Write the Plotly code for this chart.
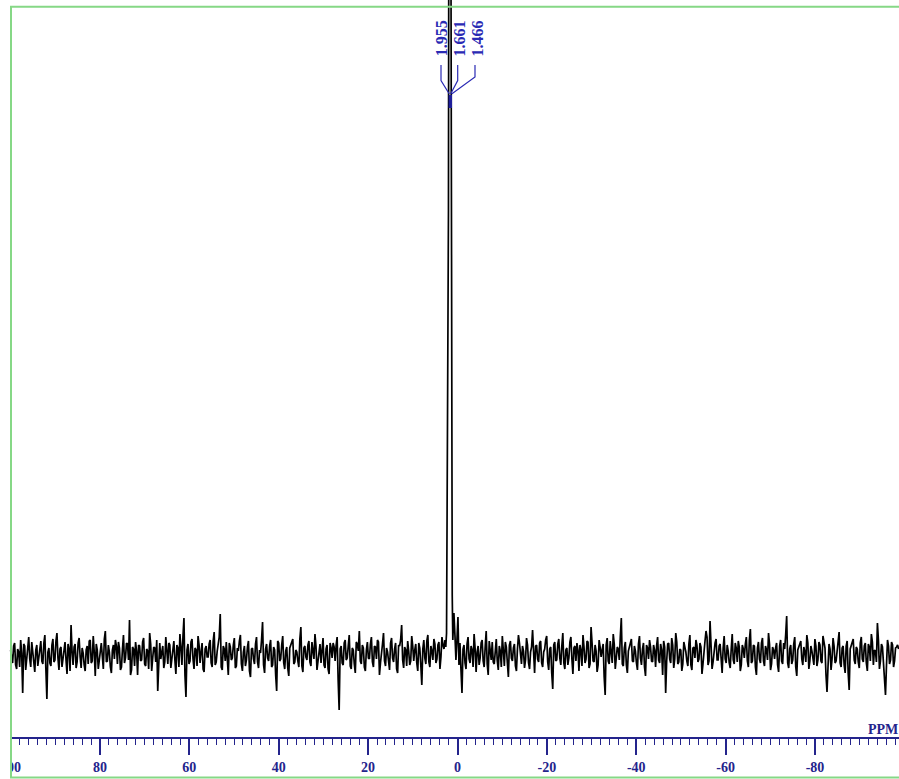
import numpy as np
import plotly.graph_objects as go

# ---------------- data ----------------
# baseline noise left of the signal (ppm 100 -> ~2.8); two interleaved sample sets
noise_left_a = [
    5, -8, 12, -14, 3, 15, -38, 9, -6, 18, -12, 4, -17, 10, -3, 14, -9, 20, -44, 7,
    -11, 16, -5, 22, -15, 8, -2, 13, -19, 6, 30, -10, 11, -7, 17, -13, 2, -16, 9, 14,
    -8, 19, -21, 5, -4, 12, -14, 24, -6, 3, -18, 10, 15, -9, 7, -12, 20, -3, 11, 35,
    -15, 6, 13, -20, 9, -5, 17, -11, 4, 22, -16, 8, -7, -36, 12, 3, -13, 18, -9, 10,
    -4, 14, -19, 7, 21, -10, 37, -42, 11, -6, 16, -14, 5, 19, -8, 12, -17, 9, -2, 15,
    -12, 23, -7, 10, 41, -15, 6, 13, -20, 8, -3, 17, -11, 4, 20, -16, 9, -5, 14, -22,
    7, -9, 18, -13, 2, 33, -18, 11, -6, 15, -10, 5, -36, 12, -4, 19, -14, 8, -21, 10,
    16, -7, 3, -12, 28, -17, 9, -5, 14, -11, 6, 21, -15, 4, -8, 17, -13, 10, -19, 7,
    12, -6, 18, -55, 9, -10, 15, -3, 20, -14, 5, -18, 11, 24, -9, 7, -16, 13, -4, 18,
    -12, 8, 15, -20, 6, 22, -11, 3, -15, 17, -7, 12, -18, 9, 30, -13, 5, 14, -10, 19,
    -6, 11, -16, 7, -30, 15, -9, 20, -12, 4, 16, -8, 10, -14, 18, 6,
]
noise_left_b = [
    -3, 9, -10, 6, -12, 2, 11, -15, 8, -4, 13, -9, 5, -11, 7, -6, 12, -14, 3, -8,
    10, -7, 14, -3, 6, -12, 9, -5, 11, -16, 4, 8, -13, 12, -2, 7, -10, 5, -9, 15,
    -6, 3, 11, -14, 8, -1, 16, -7, 10, -12, 5, -4, 9, 13, -15, 6, -8, 12, -5, -20,
    8, -11, 4, 10, -6, 13, -9, 6, -14, 11, -3, 7, 15, -10, -4, 9, -7, 3, 12, -13,
    6, -5, 10, -12, 8, 18, -20, 5, -9, 13, -4, 7, -11, 10, 3, -14, 6, -2, 11, -8,
    14, -10, 4, 18, -12, 9, -6, -8, 12, -5, 10, -13, 7, 14, -9, 3, -11, 8, -16, 6,
    -4, 11, -7, 5, 15, -10, 6, -3, 9, -12, 8, -20, 14, -6, 10, -8, 4, -13, 7, 12,
    -9, 5, -6, 16, -11, 7, -2, 10, -7, 13, -4, 9, -8, 11, 5, -10, 6, -14, 12, -3,
    8, 10, -25, 6, -8, 12, -5, 9, -11, 7, -9, 13, 4, -6, 10, -12, 5, -3, 11, -7,
    9, -4, 13, -8, 11, -6, 7, -10, 12, -3, 6, -14, 10, 15, -5, 8, -11, 4, -6, 9,
    5, -8, 12, -10, 6, -3, 14, -7, 9, -5, 11, -4, 13, -2, 10, 15,
]
# signal region (multiplet at 1.955 / 1.661 / 1.466 ppm, runs off the top of the frame)
peak_ppm = [2.62, 2.45, 2.30, 2.15, 2.02, 1.955, 1.84, 1.76, 1.661, 1.60, 1.52, 1.466, 1.40, 1.30, 1.18, 1.05]
peak_val = [8, 22, 140, 330, 445, 700, 1200, 1500, 1300, 1500, 1100, 700, 445, 250, 60, 15]
# baseline noise right of the signal (ppm ~0.8 -> -98.7); two interleaved sample sets
noise_right_a = [
    42, -5, 38, 12, -38, 10, -14, 18, -8, 5, 21, -17, 9, -3, 15, -12, 24, -20, 7, 13,
    -9, 16, -15, 4, 19, -11, 8, -22, 14, -6, 11, -16, 20, -4, 9, -13, 17, -8, 3, 25,
    -18, 10, -7, 14, -12, 6, 19, -15, 8, -34, 13, -5, 16, -10, 22, -14, 7, -3, 18, -19,
    9, 12, -16, 5, 20, -8, 14, -13, 28, -6, 10, -17, 15, -2, 11, -40, 17, -9, 6, 21,
    -14, 8, -5, 37, -11, 13, -18, 9, 16, -7, 4, -15, 19, -10, 12, -21, 7, 15, -6, 10,
    -12, 18, -8, 5, 14, -38, 11, -4, 17, -13, 22, -9, 6, -16, 13, 3, -11, 20, -15, 8,
    15, -7, 12, -19, 9, 24, -10, 34, -14, 6, 16, -5, 11, -18, 19, -8, 4, -13, 21, -9,
    7, 14, -16, 10, -3, 18, -12, 26, -6, 9, -20, 13, -8, 17, -11, 5, 22, -15, 8, -4,
    12, -17, 15, -9, 6, 39, -13, 10, -5, 18, -21, 8, 14, -10, 3, 20, -14, 9, -7, 16,
    -11, 13, -6, 19, 7, -37, 11, -15, 17, -8, 5, 23, -12, 9, -18, 14, -35, 10, 16, -9,
    6, -13, 18, -7, 12, -16, 8, 21, -10, 4, 32, -14, 11, -6, -40, 15, -9, 13, -12, 7, 10,
]
noise_right_b = [
    20, 15, -10, -15, 6, -8, 11, -4, 9, -12, 7, 3, -10, 12, -6, 8, -9, 14, -5, -7,
    11, -6, 9, -12, 5, 13, -8, 10, -3, 7, -11, 6, 12, -9, 4, -5, 10, -14, 8, -6,
    9, -4, 12, -8, 3, 15, -7, 6, -18, 10, -6, 11, -3, 9, -8, 5, -10, 13, -4, 7,
    -6, 5, 10, -11, 8, -4, 13, -9, 12, -7, 4, -10, 8, 5, -22, 10, -6, 14, -8, 11,
    -5, 6, 18, -9, 7, -10, 4, 12, -6, 9, -8, 11, -3, 6, -12, 10, -4, 8, -7, 5,
    9, -5, 11, -20, 8, -6, 12, -8, 10, -4, 13, -7, 5, -9, 8, -6, 11, -10, 7, -3,
    10, -4, 8, -9, 14, 18, -6, 11, -7, 12, -5, 9, -11, 7, -4, 10, -8, 6, -5, 12,
    -7, 8, -10, 6, 11, -6, 15, -8, 10, -12, 7, -4, 12, -6, 9, -5, 11, -9, 5, 7,
    -10, 9, -6, 12, 20, -8, 6, -9, 11, -12, 5, 10, -4, 8, -7, 12, -6, 4, -10, 9,
    -5, 10, -8, 11, -20, -12, 6, -4, 9, -6, 14, -8, 7, -10, 9, -18, 6, 11, -5, 8,
    -7, 12, -4, 9, -8, 11, -6, 13, 5, -7, 15, -6, 8, -20, -10, 9, -5, 10, -6, 8, 6,
]
peak_labels = ["1.955", "1.661", "1.466"]
tick_vals = [100, 80, 60, 40, 20, 0, -20, -40, -60, -80]
tick_text = ["100", "80", "60", "40", "20", "0", "-20", "-40", "-60", "-80"]
axis_title = "PPM"

# interleave the two sample sets and lay them on the spectrum's sampling grid
noise_left = np.ravel(np.column_stack([noise_left_a, noise_left_b]))
noise_right = np.ravel(np.column_stack([noise_right_a, noise_right_b]))
ppm_left = np.linspace(100, 2.8, len(noise_left))
ppm_right = np.linspace(0.8, -98.7, len(noise_right))
ppm = np.concatenate([ppm_left, peak_ppm, ppm_right])
intensity = np.concatenate([noise_left, peak_val, noise_right])

# ---------------- figure ----------------
W, H = 899, 779
B = 42                      # bottom margin (axis line sits at y = 737)
PH = H - B
NAVY = "#24248c"
BLUE = "#2a2ab4"
GREEN = "#86d886"

def px(x):
    return x / W

def py(y):
    return 1 - y / PH

fig = go.Figure()
fig.add_trace(go.Scatter(
    x=ppm, y=intensity, mode="lines",
    line=dict(color="black", width=1.7),
    hoverinfo="skip", showlegend=False,
))

shapes = []
# peak-label bracket lines (pixel layout)
brackets = [
    [(441.0, 65), (441.0, 80.5), (449.3, 94)],
    [(457.7, 65), (457.7, 80.5), (450.6, 94)],
    [(475.0, 65), (475.0, 77.0), (451.6, 94)],
]
for pts in brackets:
    path = "M " + " L ".join(f"{px(x):.5f},{py(y):.5f}" for x, y in pts)
    shapes.append(dict(type="path", path=path, xref="paper", yref="paper",
                       line=dict(color=BLUE, width=1.2), layer="above"))
shapes.append(dict(type="line", xref="paper", yref="paper",
                   x0=px(450.3), x1=px(450.3), y0=py(95), y1=py(108),
                   line=dict(color="#1e1e9a", width=3.5), layer="above"))
# white mask at the left edge (clips the first tick label like the original frame)
shapes.append(dict(type="rect", xref="paper", yref="paper",
                   x0=-0.01, x1=px(10.5), y0=py(H + 5), y1=py(700),
                   fillcolor="white", line=dict(width=0), layer="above"))
# green frame
shapes.append(dict(type="path", xref="paper", yref="paper",
                   path=f"M {px(W + 20):.5f},{py(6.8):.5f} L {px(11):.5f},{py(6.8):.5f} "
                        f"L {px(11):.5f},{py(777.5):.5f} L {px(W + 20):.5f},{py(777.5):.5f}",
                   line=dict(color=GREEN, width=2), layer="above"))

annotations = []
label_x = [441.8, 459.0, 477.0]
for lab, lx in zip(peak_labels, label_x):
    annotations.append(dict(
        text=lab, x=px(lx), y=py(38.5), xref="paper", yref="paper",
        showarrow=False, textangle=-90, xanchor="center", yanchor="middle",
        font=dict(family="Liberation Serif", size=16, color=BLUE, weight=700),
    ))
annotations.append(dict(
    text=axis_title, x=px(900), y=py(729), xref="paper", yref="paper",
    showarrow=False, xanchor="right", yanchor="middle",
    font=dict(family="Liberation Serif", size=14, color=NAVY, weight=700),
))

fig.update_layout(
    width=W, height=H,
    margin=dict(l=0, r=0, t=0, b=B, pad=0),
    paper_bgcolor="white", plot_bgcolor="white",
    showlegend=False,
    shapes=shapes, annotations=annotations,
    xaxis=dict(
        range=[102.37, -98.79], showgrid=False, zeroline=False,
        showline=True, linecolor=NAVY, linewidth=2,
        tickmode="array", tickvals=tick_vals, ticktext=tick_text,
        ticks="outside", ticklen=16, tickwidth=1.5, tickcolor=NAVY,
        tickfont=dict(family="Liberation Serif", size=14, color=NAVY, weight=700),
        minor=dict(tickmode="linear", tick0=0, dtick=2, ticks="outside",
                   ticklen=6, tickwidth=1.2, tickcolor=NAVY),
        fixedrange=True,
    ),
    yaxis=dict(
        range=[-82, 655], visible=False, showgrid=False, zeroline=False,
        fixedrange=True,
    ),
)

fig.write_html("out.html", config={"displayModeBar": False})
